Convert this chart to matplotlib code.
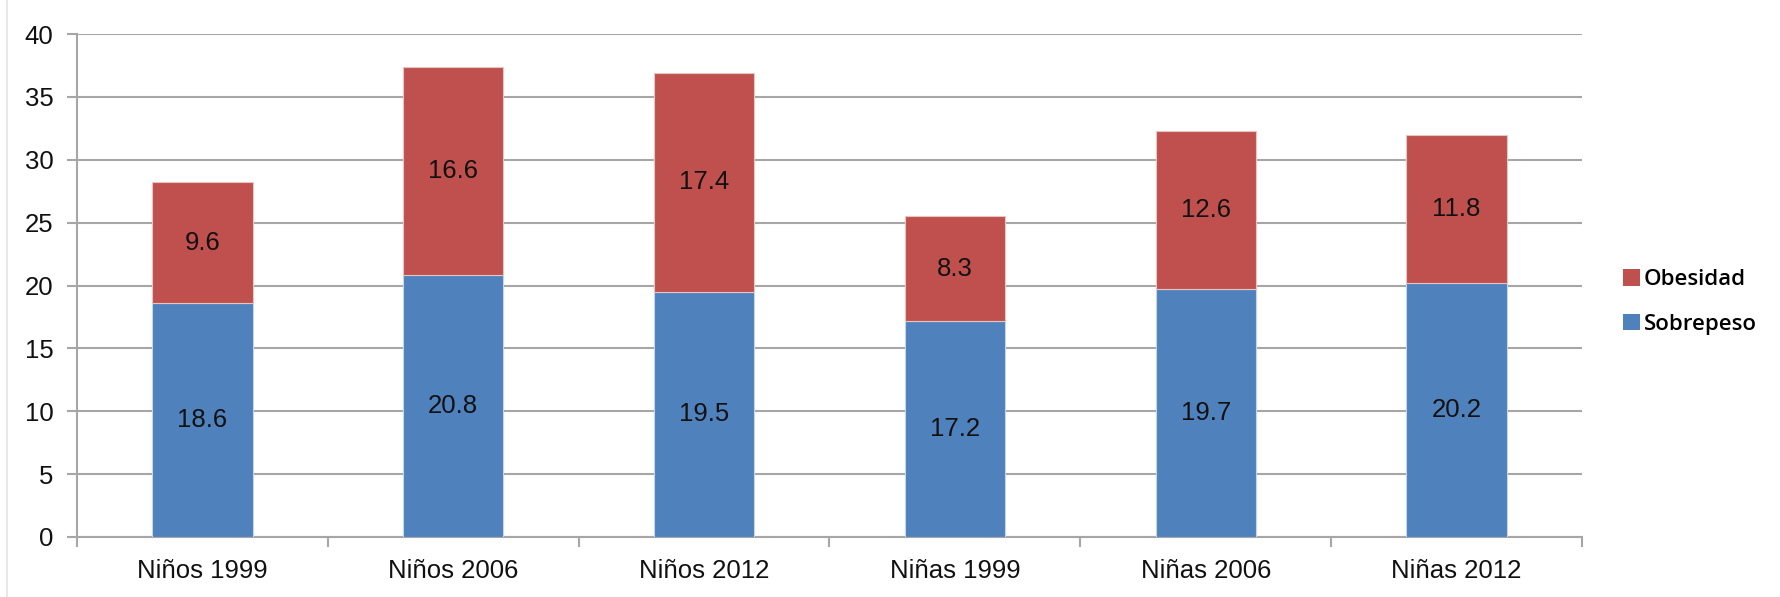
import matplotlib.pyplot as plt
import numpy as np
from matplotlib.patches import Patch

categories = ['Niños 1999', 'Niños 2006', 'Niños 2012', 'Niñas 1999', 'Niñas 2006', 'Niñas 2012']
sobrepeso = [18.6, 20.8, 19.5, 17.2, 19.7, 20.2]
obesidad = [9.6, 16.6, 17.4, 8.3, 12.6, 11.8]

blue = '#4F81BD'
red = '#C0504D'
grid = '#A6A6A6'

fig = plt.figure(figsize=(17.8, 5.97), dpi=100)
ax = fig.add_axes([77 / 1780, 1 - 537 / 597, (1582 - 77) / 1780, (537 - 34) / 597])

x = np.arange(len(categories))
w = 0.4
ax.bar(x, sobrepeso, w, color=blue, edgecolor='#C6D6EA', linewidth=0.8, zorder=3)
ax.bar(x, obesidad, w, bottom=sobrepeso, color=red, edgecolor='#E8C4C3', linewidth=0.8, zorder=3)

for i in range(len(categories)):
    ax.text(x[i], sobrepeso[i] / 2, f'{sobrepeso[i]:.1f}', ha='center', va='center',
            fontsize=18.5, color='#111111', family='Liberation Sans', zorder=4)
    ax.text(x[i], sobrepeso[i] + obesidad[i] / 2, f'{obesidad[i]:.1f}', ha='center', va='center',
            fontsize=18.5, color='#111111', family='Liberation Sans', zorder=4)

ax.set_xlim(-0.5, len(categories) - 0.5)
ax.set_ylim(0, 40)
ax.set_yticks(range(0, 41, 5))
ax.yaxis.grid(True, color=grid, linewidth=1.5, zorder=0)
ax.set_axisbelow(True)

ax.set_xticks(x)
ax.set_xticklabels(categories)
ax.set_xticks(np.arange(-0.5, len(categories), 1), minor=True)
ax.tick_params(axis='x', which='major', length=0, pad=16, labelsize=18.5, labelcolor='#111111')
ax.tick_params(axis='x', which='minor', length=7, width=1.5, color=grid, direction='out')
ax.tick_params(axis='y', length=7, width=1.5, color=grid, pad=10, labelsize=18.5, labelcolor='#111111')
for lab in ax.get_xticklabels() + ax.get_yticklabels():
    lab.set_family('Liberation Sans')

for s in ['top', 'right']:
    ax.spines[s].set_visible(False)
for s in ['left', 'bottom']:
    ax.spines[s].set_color(grid)
    ax.spines[s].set_linewidth(1.5)

handles = [Patch(facecolor=red, edgecolor='none'), Patch(facecolor=blue, edgecolor='none')]
fig.legend(handles, ['Obesidad', 'Sobrepeso'], loc='center left',
           bbox_to_anchor=(1623 / 1780, 1 - 302 / 597), frameon=False,
           handlelength=0.75, handleheight=0.75, handletextpad=0.2, labelspacing=1.05,
           borderpad=0, borderaxespad=0,
           prop={'family': 'Open Sans', 'size': 16, 'weight': 'semibold'})

# faint frame line at the left edge of the chart area
fig.add_artist(plt.Line2D([7 / 1780, 7 / 1780], [0, 1], color='#E4E4E4', linewidth=1.2))

fig.savefig('out.png', dpi=100)
